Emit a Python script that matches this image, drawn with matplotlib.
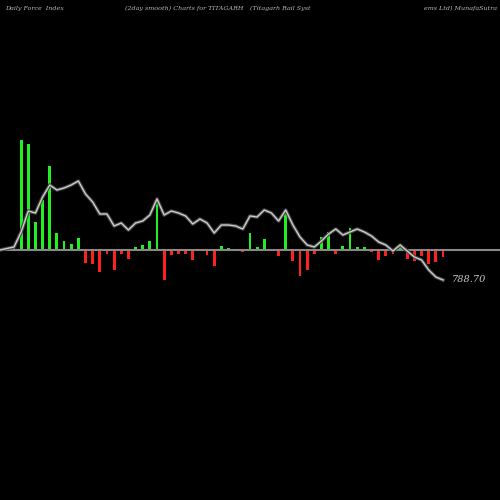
import numpy as np
import matplotlib.pyplot as plt

# force index bars (px above baseline) and smoothed line level
force = [3, 110, 106, 28, 50, 84, 17, 9, 6, 12, -13, -14, -22, -4, -20, -4, -9, 3, 5, 9,
         51, -30, -5, -4, -4, -10, 1, -5, -16, 4, 2, -1, -2, 17, 3, 11, 1, -6, 40, -11,
         -26, -20, -4, 13, 18, -4, 4, 22, 3, 3, -2, -10, -6, -4, 4, -9, -11, -6, -14, -12, -7]
smooth = [3, 18, 39, 37, 53, 65, 60, 62, 65, 69, 56, 48, 36, 36, 24, 27, 20, 27, 29, 35,
          51, 35, 39, 37, 34, 26, 31, 27, 17, 25, 25, 24, 21, 34, 33, 40, 37, 29, 40, 25,
          13, 5, 3, 9, 16, 21, 15, 18, 21, 18, 14, 8, 5, -1, 5, -1, -7, -10, -20, -27, -30]
last_label = "788.70"

x = np.arange(len(force))
vals = np.array(force)
colors = ['#22ee22' if v >= 0 else '#ff2020' for v in vals]

fig = plt.figure(figsize=(5, 5), dpi=100, facecolor='black')
ax = fig.add_axes([0, 0, 1, 1], facecolor='black')
ax.bar(x, vals, width=0.4, color=colors)
ax.axhline(0, color='#888888', lw=1.5)
lx = np.concatenate(([-1.96], x))
ly = np.concatenate(([0], smooth))
ax.plot(lx, ly, color='#444444', lw=2.6)
ax.plot(lx, ly, color='#cccccc', lw=1.0)
ax.text(x[-1] + 1.2, smooth[-1], last_label, color='#cccccc', fontsize=7,
        family='DejaVu Serif', style='italic', va='center')
ax.set_xlim(-1.958, 67.97)
ax.set_ylim(-250, 250)
ax.axis('off')

hdr = dict(color='#bbbbbb', fontsize=4.6, family='DejaVu Serif', style='italic', va='center')
fig.text(0.01, 0.983, "Daily Force  Index", **hdr)
fig.text(0.25, 0.983, "(2day smooth) Charts for TITAGARH", **hdr)
fig.text(0.5, 0.983, "(Titagarh Rail Syst", **hdr)
fig.text(0.995, 0.983, "ems Ltd) MunafaSutra", ha='right', **hdr)

fig.savefig('out.png', facecolor='black')
